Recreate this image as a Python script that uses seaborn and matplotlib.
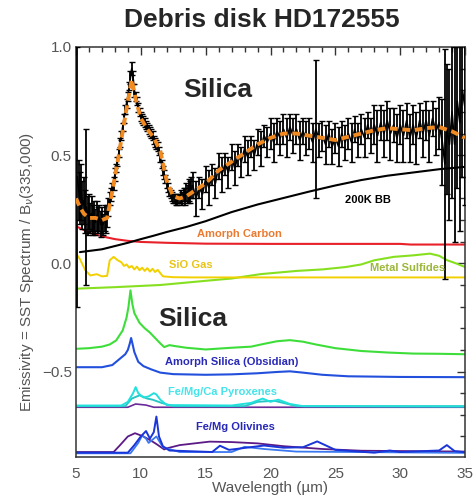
import matplotlib
matplotlib.use("Agg")
import matplotlib.pyplot as plt
from matplotlib.ticker import MultipleLocator
import seaborn as sns

sl_wl = [5.1, 5.2, 5.3, 5.4, 5.5, 5.6, 5.7, 5.8, 5.9,
         6.0, 6.1, 6.2, 6.3, 6.4, 6.5, 6.6, 6.7, 6.8, 6.9,
         7.0, 7.1, 7.2, 7.3, 7.4, 7.5, 7.6, 7.7, 7.8, 7.9,
         8.0, 8.1, 8.2, 8.3, 8.4, 8.5, 8.6, 8.7, 8.8, 8.9,
         9.0, 9.1, 9.2, 9.3, 9.4, 9.5, 9.6, 9.7, 9.8, 9.9,
         10.0, 10.1, 10.2, 10.3, 10.4, 10.5, 10.6, 10.7, 10.8, 10.9,
         11.0, 11.1, 11.2, 11.3, 11.4, 11.5, 11.6, 11.7, 11.8, 11.9,
         12.0, 12.1, 12.2, 12.3, 12.4, 12.5, 12.6, 12.7, 12.8, 12.9,
         13.0, 13.1, 13.2, 13.3, 13.4, 13.5, 13.6, 13.7, 13.8, 13.9]
sl_flux = [0.40, 0.34, 0.30, 0.33, 0.27, 0.29, 0.24, 0.26, 0.22,
           0.24, 0.21, 0.23, 0.20, 0.22, 0.19, 0.22, 0.20, 0.21, 0.18,
           0.20, 0.18, 0.21, 0.19, 0.22, 0.26, 0.30, 0.32, 0.34, 0.37,
           0.41, 0.44, 0.47, 0.51, 0.56, 0.59, 0.63, 0.67, 0.71, 0.74,
           0.77, 0.82, 0.86, 0.90, 0.86, 0.80, 0.77, 0.75, 0.72, 0.70,
           0.68, 0.67, 0.66, 0.65, 0.64, 0.63, 0.62, 0.61, 0.60, 0.59,
           0.57, 0.56, 0.55, 0.54, 0.52, 0.49, 0.46, 0.43, 0.41, 0.39,
           0.37, 0.35, 0.33, 0.32, 0.31, 0.30, 0.30, 0.29, 0.29, 0.30,
           0.30, 0.31, 0.30, 0.32, 0.31, 0.33, 0.32, 0.34, 0.33, 0.35]
sl_err = [0.60, 0.14, 0.12, 0.13, 0.11, 0.11, 0.10, 0.36, 0.09,
          0.08, 0.07, 0.08, 0.07, 0.07, 0.06, 0.07, 0.06, 0.06, 0.06,
          0.06, 0.05, 0.06, 0.05, 0.05, 0.04, 0.03, 0.03, 0.03, 0.03,
          0.03, 0.02, 0.02, 0.02, 0.02, 0.02, 0.02, 0.02, 0.02, 0.02,
          0.02, 0.02, 0.03, 0.03, 0.03, 0.03, 0.02, 0.02, 0.02, 0.02,
          0.02, 0.02, 0.02, 0.02, 0.02, 0.02, 0.02, 0.02, 0.02, 0.02,
          0.02, 0.02, 0.02, 0.02, 0.02, 0.02, 0.02, 0.02, 0.02, 0.02,
          0.02, 0.02, 0.02, 0.02, 0.02, 0.02, 0.02, 0.02, 0.02, 0.02,
          0.02, 0.03, 0.03, 0.03, 0.04, 0.04, 0.04, 0.05, 0.05, 0.05]

# observed spectrum, long-wavelength part
ll_wl = [14.0, 14.25, 14.5, 14.75, 15.0, 15.25, 15.5, 15.75, 16.0, 16.25, 16.5, 16.75,
         17.0, 17.25, 17.5, 17.75, 18.0, 18.25, 18.5, 18.75, 19.0, 19.25, 19.5, 19.75,
         20.0, 20.25, 20.5, 20.75, 21.0, 21.25, 21.5, 21.75, 22.0, 22.25, 22.5, 22.75,
         23.0, 23.25, 23.5, 23.75, 24.0, 24.25, 24.5, 24.75, 25.0, 25.25, 25.5, 25.75,
         26.0, 26.25, 26.5, 26.75, 27.0, 27.25, 27.5, 27.75, 28.0, 28.25, 28.5, 28.75,
         29.0, 29.25, 29.5, 29.75, 30.0, 30.25, 30.5, 30.75, 31.0, 31.25, 31.5, 31.75,
         32.0, 32.25, 32.5, 32.75, 33.0, 33.25, 33.45, 33.6, 33.8, 34.0, 34.2, 34.4,
         34.6, 34.8, 35.0]
ll_flux = [0.36, 0.30, 0.35, 0.32, 0.39, 0.35, 0.41, 0.37, 0.45, 0.41, 0.46, 0.42,
           0.49, 0.44, 0.50, 0.47, 0.53, 0.49, 0.54, 0.50, 0.56, 0.53, 0.59, 0.56,
           0.60, 0.56, 0.61, 0.58, 0.62, 0.58, 0.63, 0.59, 0.62, 0.57, 0.61, 0.58,
           0.60, 0.56, 0.62, 0.57, 0.59, 0.55, 0.60, 0.54, 0.58, 0.54, 0.60, 0.56,
           0.60, 0.56, 0.62, 0.57, 0.62, 0.58, 0.64, 0.59, 0.64, 0.59, 0.65, 0.60,
           0.66, 0.60, 0.64, 0.58, 0.64, 0.59, 0.66, 0.58, 0.64, 0.58, 0.66, 0.60,
           0.66, 0.59, 0.67, 0.61, 0.65, 0.56, 0.46, 0.62, 0.55, 0.70, 0.55, 0.75,
           0.65, 0.80, 0.72]
ll_err = [0.06, 0.08, 0.05, 0.07, 0.06, 0.08, 0.05, 0.07, 0.06, 0.08, 0.05, 0.07,
          0.06, 0.08, 0.05, 0.07, 0.06, 0.08, 0.05, 0.07, 0.06, 0.08, 0.05, 0.07,
          0.07, 0.09, 0.06, 0.08, 0.07, 0.09, 0.06, 0.08, 0.07, 0.09, 0.06, 0.08,
          0.07, 0.09, 0.32, 0.08, 0.07, 0.09, 0.06, 0.08, 0.07, 0.09, 0.06, 0.08,
          0.07, 0.09, 0.06, 0.08, 0.07, 0.09, 0.06, 0.08, 0.09, 0.12, 0.08, 0.11,
          0.09, 0.12, 0.08, 0.11, 0.09, 0.12, 0.08, 0.11, 0.09, 0.12, 0.08, 0.11,
          0.09, 0.12, 0.08, 0.11, 0.12, 0.20, 0.53, 0.30, 0.35, 0.40, 0.45, 0.40,
          0.50, 0.40, 0.45]

# model fit (orange dashed)
model_wl = [5.0, 5.3, 5.6, 6.0, 6.5, 7.0, 7.4, 7.7, 8.0, 8.3, 8.6, 9.0, 9.3, 9.6, 10.0,
            10.5, 11.0, 11.5, 12.0, 12.5, 13.0, 13.5, 14.0, 15.0, 16.0, 17.0, 18.0,
            19.0, 20.0, 21.0, 22.0, 23.0, 24.0, 25.0, 26.0, 27.0, 28.0, 29.0, 30.0,
            31.0, 32.0, 33.0, 34.0, 35.0]
model = [0.30, 0.26, 0.23, 0.21, 0.21, 0.20, 0.21, 0.30, 0.40, 0.50, 0.61, 0.75, 0.85,
         0.76, 0.67, 0.62, 0.58, 0.52, 0.38, 0.31, 0.30, 0.31, 0.33, 0.37, 0.43, 0.47,
         0.51, 0.55, 0.58, 0.60, 0.60, 0.59, 0.58, 0.57, 0.585, 0.60, 0.615, 0.625,
         0.62, 0.615, 0.625, 0.63, 0.61, 0.58]

bb_wl = [5.3, 7.0, 8.0, 9.0, 10.0, 11.0, 12.0, 13.5, 15.0, 17.0, 19.0, 21.0, 23.0,
         25.0, 27.0, 29.0, 31.0, 33.0, 35.0]
bb = [0.052, 0.065, 0.08, 0.095, 0.112, 0.128, 0.145, 0.168, 0.195, 0.237, 0.272,
      0.302, 0.332, 0.36, 0.385, 0.405, 0.42, 0.435, 0.446]

carbon_wl = [5.0, 6.0, 7.0, 8.0, 9.0, 10.0, 12.0, 15.0, 20.0, 30.0, 30.8, 35.0]
carbon = [0.172, 0.142, 0.125, 0.112, 0.104, 0.099, 0.095, 0.091, 0.090, 0.090, 0.087, 0.087]

sio_wl = [5.0, 5.3, 5.7, 6.1, 6.6, 7.0, 7.4, 7.6, 7.9, 8.2, 8.5, 8.7, 8.9, 9.1, 9.3,
          9.5, 9.7, 9.9, 10.1, 10.3, 10.5, 10.7, 10.9, 11.1, 11.3, 11.7, 12.5, 14.0,
          20.0, 35.0]
sio = [0.045, 0.02, -0.03, -0.056, -0.05, -0.06, -0.058, 0.014, 0.03, 0.015, 0.005,
       -0.012, -0.005, -0.02, -0.012, -0.028, -0.015, -0.032, -0.02, -0.035, -0.022,
       -0.038, -0.025, -0.04, -0.03, -0.06, -0.064, -0.065, -0.065, -0.065]

sulf_wl = [5.0, 8.0, 11.5, 15.3, 17.0, 19.2, 22.0, 24.0, 25.8, 27.0, 28.0, 29.5,
           31.0, 32.3, 33.0, 33.6, 34.3, 35.0]
sulf = [-0.117, -0.11, -0.10, -0.079, -0.07, -0.05, -0.035, -0.028, -0.017, -0.005,
        0.014, 0.03, 0.037, 0.045, 0.035, 0.015, 0.0, -0.017]

silica_wl = [5.0, 6.0, 7.0, 7.6, 8.1, 8.6, 8.9, 9.05, 9.2, 9.35, 9.5, 9.9, 10.3,
             10.7, 11.1, 11.5, 11.8, 12.2, 12.6, 13.5, 15.0, 17.0, 18.5, 19.5, 20.5,
             21.5, 22.5, 23.5, 25.0, 27.0, 29.0, 31.0, 33.0, 35.0]
silica = [-0.395, -0.392, -0.385, -0.375, -0.356, -0.31, -0.25, -0.2, -0.125, -0.19,
          -0.23, -0.275, -0.3, -0.32, -0.345, -0.37, -0.387, -0.378, -0.382, -0.39,
          -0.398, -0.39, -0.385, -0.372, -0.36, -0.355, -0.362, -0.375, -0.392,
          -0.405, -0.412, -0.417, -0.418, -0.42]

asil_wl = [5.0, 7.0, 7.8, 8.2, 8.5, 8.8, 9.0, 9.15, 9.25, 9.35, 9.5, 9.8, 10.2, 10.8,
           11.5, 12.5, 15.0, 17.0, 19.0, 20.5, 21.5, 22.5, 24.0, 26.0, 30.0, 35.0]
asil = [-0.48, -0.48, -0.47, -0.45, -0.435, -0.42, -0.40, -0.37, -0.345, -0.37, -0.41,
        -0.455, -0.475, -0.49, -0.505, -0.512, -0.515, -0.513, -0.508, -0.502, -0.499,
        -0.505, -0.515, -0.522, -0.525, -0.526]

pyr1_wl = [5.0, 8.5, 9.0, 9.4, 9.6, 9.8, 10.2, 10.6, 11.0, 11.2, 11.5, 12.0, 17.0,
           18.5, 19.4, 20.0, 20.6, 21.5, 22.5, 35.0]
pyr1 = [-0.657, -0.657, -0.64, -0.60, -0.572, -0.60, -0.62, -0.615, -0.60, -0.606,
        -0.63, -0.655, -0.657, -0.645, -0.625, -0.64, -0.63, -0.65, -0.66, -0.662]
pyr2_wl = [5.0, 8.8, 9.3, 9.9, 10.5, 10.9, 11.6, 12.5, 18.0, 19.0, 20.3, 21.2, 22.0, 35.0]
pyr2 = [-0.66, -0.66, -0.625, -0.61, -0.625, -0.63, -0.645, -0.66, -0.66, -0.64,
        -0.635, -0.648, -0.66, -0.66]
pyr3_wl = [5.0, 9.0, 9.6, 10.4, 11.0, 35.0]
pyr3 = [-0.665, -0.665, -0.65, -0.655, -0.665, -0.665]

oliv1_wl = [5.0, 7.9, 8.4, 9.0, 9.55, 10.2, 10.8, 11.2, 11.8, 12.0, 13.0, 15.3, 17.0,
            19.0, 21.0, 24.0, 27.0, 35.0]
oliv1 = [-0.872, -0.872, -0.84, -0.80, -0.785, -0.80, -0.82, -0.835, -0.86, -0.855,
         -0.84, -0.824, -0.826, -0.832, -0.845, -0.858, -0.866, -0.87]
oliv2_wl = [5.0, 9.0, 9.5, 10.0, 10.4, 10.7, 11.0, 11.2, 11.4, 11.7, 12.2, 15.5, 16.1,
            16.8, 19.5, 21.0, 22.5, 23.6, 25.0, 28.0, 29.2, 30.0, 33.0, 33.6, 34.2, 35.0]
oliv2 = [-0.875, -0.875, -0.84, -0.80, -0.775, -0.81, -0.78, -0.708, -0.80, -0.845,
         -0.865, -0.872, -0.843, -0.862, -0.842, -0.852, -0.85, -0.823, -0.862, -0.875,
         -0.865, -0.872, -0.865, -0.84, -0.868, -0.873]
oliv3_wl = [5.0, 9.2, 9.8, 10.1, 10.4, 10.6, 11.2, 11.7, 13.0, 17.0, 18.0, 19.5, 22.0, 35.0]
oliv3 = [-0.878, -0.878, -0.83, -0.796, -0.81, -0.83, -0.80, -0.85, -0.872, -0.872,
         -0.848, -0.858, -0.87, -0.876]

sns.set_style("white")
plt.rcParams['font.family'] = ['Liberation Sans', 'DejaVu Sans']

fig = plt.figure(figsize=(4.73, 4.96), dpi=100)
ax = fig.add_axes([76/473, 1-457/496, (465-76)/473, (457-47)/496])

# component curves
sns.lineplot(x=oliv1_wl, y=oliv1, ax=ax, color='#5b1a86', lw=1.3, sort=False)
sns.lineplot(x=oliv3_wl, y=oliv3, ax=ax, color='#3a78f0', lw=1.3, sort=False)
sns.lineplot(x=oliv2_wl, y=oliv2, ax=ax, color='#1a35d8', lw=1.4, sort=False)
sns.lineplot(x=pyr3_wl, y=pyr3, ax=ax, color='#6a2a9a', lw=1.2, sort=False)
sns.lineplot(x=pyr2_wl, y=pyr2, ax=ax, color='#2ac6c6', lw=1.4, sort=False)
sns.lineplot(x=pyr1_wl, y=pyr1, ax=ax, color='#22e0dc', lw=1.4, sort=False)
sns.lineplot(x=asil_wl, y=asil, ax=ax, color='#2250dd', lw=1.5, sort=False)
sns.lineplot(x=silica_wl, y=silica, ax=ax, color='#3ede3a', lw=1.5, sort=False)
sns.lineplot(x=sulf_wl, y=sulf, ax=ax, color='#86e020', lw=1.5, sort=False)
sns.lineplot(x=sio_wl, y=sio, ax=ax, color='#f2d000', lw=1.4, sort=False)
sns.lineplot(x=carbon_wl, y=carbon, ax=ax, color='#e8202a', lw=1.5, sort=False)
sns.lineplot(x=bb_wl, y=bb, ax=ax, color='black', lw=1.5, sort=False)

# data with error bars and the fit on top
ax.errorbar(sl_wl + ll_wl, sl_flux + ll_flux, yerr=sl_err + ll_err, fmt='-',
            color='black', lw=1.2, elinewidth=1.3, capsize=2.0, capthick=1.0, zorder=3)
ax.plot(model_wl, model, color='#f28a22', lw=2.8, linestyle=(0, (2.0, 1.2)), zorder=4)

ax.set_xlim(5, 35)
ax.set_ylim(-0.895, 1.0)
ax.xaxis.set_major_locator(MultipleLocator(5))
ax.xaxis.set_minor_locator(MultipleLocator(1))
ax.yaxis.set_major_locator(MultipleLocator(0.5))
ax.yaxis.set_minor_locator(MultipleLocator(0.1))
ax.tick_params(which='both', direction='in', top=True, right=True, colors='#333333',
               labelcolor='#555555', labelsize=11)
ax.tick_params(which='major', length=6, width=1)
ax.tick_params(which='minor', length=3.5, width=1)
ax.tick_params(axis='x', pad=7)
ax.tick_params(axis='y', pad=3)
for s in ax.spines.values():
    s.set_color('#333333')
    s.set_linewidth(1.1)
ax.set_xlabel('')
ax.set_ylabel('')

fig.text(27/473, 1-272/496, r'Emissivity = SST Spectrum / B$_\nu$(335,000)',
         rotation=90, ha='center', va='center', fontsize=11, color='#555555')
fig.text(270/473, 1-488/496, 'Wavelength (µm)', ha='center', va='center',
         fontsize=11, color='#555555')
fig.text(262/473, 1-20/496, 'Debris disk HD172555', ha='center', va='center',
         fontsize=19, fontweight='bold')

ax.text(15.9, 0.80, 'Silica', ha='center', va='center', fontsize=19, fontweight='bold')
ax.text(14.0, -0.255, 'Silica', ha='center', va='center', fontsize=19, fontweight='bold')

lab = dict(ha='center', va='center', fontsize=8, fontweight='bold')
ax.text(27.5, 0.295, '200K BB', color='black', **lab)
ax.text(17.6, 0.134, 'Amorph Carbon', color='#ea7a30', **lab)
ax.text(13.85, -0.006, 'SiO Gas', color='#e8c418', **lab)
ax.text(30.55, -0.02, 'Metal Sulfides', color='#9cb83a', **lab)
ax.text(17.0, -0.457, 'Amorph Silica (Obsidian)', color='#2a2ab8', **lab)
ax.text(16.3, -0.596, 'Fe/Mg/Ca Pyroxenes', color='#44e4ea', **lab)
ax.text(17.3, -0.755, 'Fe/Mg Olivines', color='#2828b8', **lab)

fig.savefig('out.png', dpi=100)
